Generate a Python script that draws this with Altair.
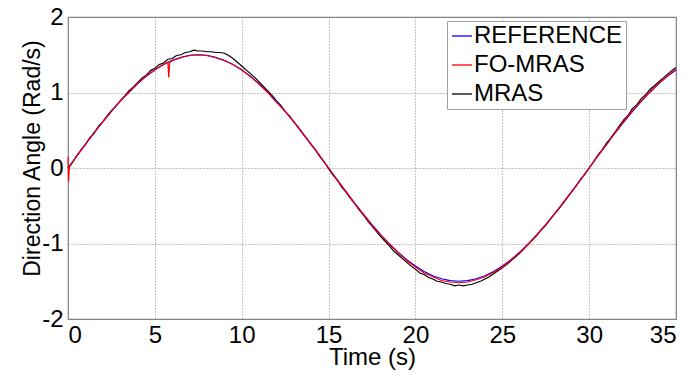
import altair as alt
import pandas as pd

# REFERENCE, sampled every 0.5 s from 0 to 35 s
ref_t = [i * 0.5 for i in range(71)]
ref_v = [0.000, 0.157, 0.312, 0.464, 0.610, 0.750, 0.882, 1.004, 1.115, 1.214,
         1.299, 1.370, 1.427, 1.467, 1.492, 1.500, 1.492, 1.467, 1.427, 1.370,
         1.299, 1.214, 1.115, 1.004, 0.882, 0.750, 0.610, 0.464, 0.312, 0.157,
         0.000, -0.157, -0.312, -0.464, -0.610, -0.750, -0.882, -1.004, -1.115, -1.214,
         -1.299, -1.370, -1.427, -1.467, -1.492, -1.500, -1.492, -1.467, -1.427, -1.370,
         -1.299, -1.214, -1.115, -1.004, -0.882, -0.750, -0.610, -0.464, -0.312, -0.157,
         0.000, 0.157, 0.312, 0.464, 0.610, 0.750, 0.882, 1.004, 1.115, 1.214, 1.299]

# FO-MRAS
fo_t = [0.0, 0.03, 0.08, 0.5, 1, 1.5, 2, 2.5, 3, 3.5, 4, 4.5, 5, 5.5, 5.75, 5.8, 5.85,
        6, 6.5, 7, 7.5, 8, 8.5, 9, 9.5, 10, 10.5, 11, 11.5, 12, 12.5, 13, 13.5, 14, 14.5,
        15, 15.5, 16, 16.5, 17, 17.5, 18, 18.5, 19, 19.5, 20, 20.5, 21, 21.5, 22, 22.5,
        23, 23.5, 24, 24.5, 25, 25.5, 26, 26.5, 27, 27.5, 28, 28.5, 29, 29.5, 30,
        30.5, 31, 31.5, 32, 32.5, 33, 33.5, 34, 34.5, 35]
fo_v = [0.15, -0.18, 0.01, 0.16, 0.31, 0.47, 0.61, 0.75, 0.89, 1.00, 1.12, 1.22, 1.30, 1.37, 1.40, 1.20, 1.40,
        1.42, 1.46, 1.49, 1.50, 1.49, 1.46, 1.42, 1.37, 1.30, 1.21, 1.11, 1.00, 0.87, 0.75, 0.61, 0.46, 0.31, 0.16,
        0.00, -0.16, -0.31, -0.47, -0.61, -0.76, -0.89, -1.01, -1.12, -1.23, -1.31, -1.39, -1.44, -1.49, -1.51, -1.52,
        -1.51, -1.48, -1.44, -1.38, -1.31, -1.22, -1.12, -1.01, -0.88, -0.75, -0.61, -0.46, -0.31, -0.16, 0.00,
        0.16, 0.31, 0.47, 0.62, 0.76, 0.89, 1.01, 1.12, 1.22, 1.31]

# MRAS, sampled every 0.25 s
mras_t = [i * 0.25 for i in range(141)]
mras_v = [0.00, 0.07, 0.16, 0.24, 0.31, 0.40, 0.46, 0.55, 0.61, 0.69,
          0.76, 0.82, 0.89, 0.95, 1.02, 1.07, 1.13, 1.19, 1.23, 1.29,
          1.32, 1.37, 1.39, 1.44, 1.45, 1.49, 1.50, 1.53, 1.54, 1.56,
          1.55, 1.55, 1.54, 1.54, 1.53, 1.53, 1.52, 1.49, 1.45, 1.40,
          1.35, 1.30, 1.25, 1.20, 1.14, 1.08, 1.02, 0.96, 0.89, 0.83,
          0.75, 0.69, 0.61, 0.54, 0.46, 0.39, 0.31, 0.24, 0.15, 0.08,
          -0.01, -0.09, -0.16, -0.25, -0.32, -0.40, -0.47, -0.55, -0.62, -0.70,
          -0.77, -0.84, -0.91, -0.97, -1.03, -1.10, -1.15, -1.20, -1.25, -1.30,
          -1.34, -1.39, -1.41, -1.45, -1.47, -1.50, -1.51, -1.53, -1.54, -1.56,
          -1.55, -1.56, -1.55, -1.54, -1.52, -1.50, -1.47, -1.44, -1.40, -1.36,
          -1.32, -1.28, -1.23, -1.18, -1.13, -1.07, -1.01, -0.95, -0.89, -0.82,
          -0.76, -0.68, -0.61, -0.54, -0.47, -0.39, -0.31, -0.24, -0.15, -0.08,
          0.00, 0.08, 0.17, 0.24, 0.33, 0.40, 0.48, 0.56, 0.64, 0.70,
          0.79, 0.84, 0.92, 0.97, 1.04, 1.09, 1.14, 1.19, 1.24, 1.29, 1.33]

series_names = ["REFERENCE", "FO-MRAS", "MRAS"]
series_colors = ["#0000FF", "#FF0000", "#000000"]
x_ticks = [0, 5, 10, 15, 20, 25, 30, 35]
y_ticks = [-2, -1, 0, 1, 2]

df_ref = pd.DataFrame({"t": ref_t, "v": ref_v, "s": "REFERENCE"})
df_fo = pd.DataFrame({"t": fo_t, "v": fo_v, "s": "FO-MRAS"})
df_mras = pd.DataFrame({"t": mras_t, "v": mras_v, "s": "MRAS"})

FONT = "Liberation Sans"

color = alt.Color(
    "s:N",
    scale=alt.Scale(domain=series_names, range=series_colors),
    legend=alt.Legend(
        title=None, orient="none", legendX=379, legendY=4,
        symbolType="stroke", symbolSize=400, symbolStrokeWidth=1.3,
        labelFontSize=24, labelFont=FONT, labelColor="#000000",
        rowPadding=5, labelOffset=0,
        strokeColor="#a0a0a0", fillColor="#ffffff", padding=3,
    ),
)

x = alt.X("t:Q", scale=alt.Scale(domain=[0, 35], nice=False),
          axis=alt.Axis(values=x_ticks, title="Time (s)", labelExpr="'' + datum.value"))
y = alt.Y("v:Q", scale=alt.Scale(domain=[-2, 2], nice=False),
          axis=alt.Axis(values=y_ticks, title="Direction Angle (Rad/s)",
                        labelExpr="'' + datum.value", titleFontSize=23,
                        titleY=141))


def line(df):
    return alt.Chart(df).mark_line(strokeWidth=1.2).encode(x=x, y=y, color=color, order="t:Q")


chart = alt.layer(line(df_mras), line(df_ref), line(df_fo)).properties(
    width=608, height=302,
    padding={"left": 68, "top": 17, "right": 16, "bottom": 55},
    autosize=alt.AutoSizeParams(type="none"),
).configure_axis(
    labelFont=FONT, titleFont=FONT, labelFontSize=24, titleFontSize=24,
    labelColor="#000000", titleColor="#000000", titleFontWeight="normal",
    grid=True, gridColor="#888888", gridDash=[1, 2], gridWidth=1,
    domain=False, ticks=False, labelPadding=5,
).configure_axisX(
    titlePadding=-2, labelPadding=4,
).configure_axisY(
    titlePadding=-3,
).configure_view(
    stroke="#808080", strokeWidth=1.2,
)

chart.save("out.html", embed_options={"renderer": "svg", "actions": False})
